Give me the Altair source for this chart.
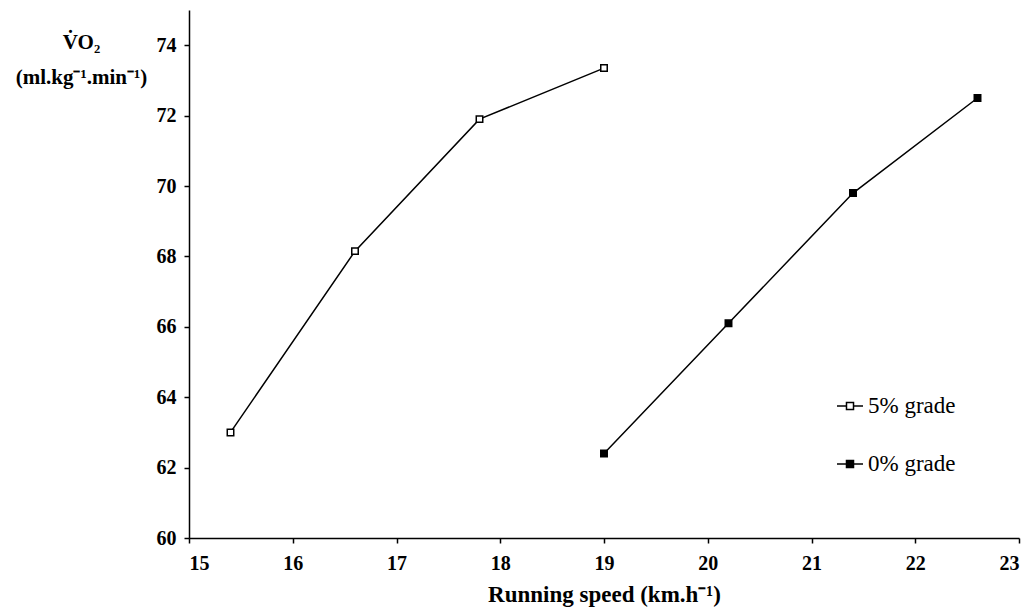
import altair as alt
import pandas as pd

speed_5 = [15.4, 16.6, 17.8, 19.0]
vo2_5 = [63.0, 68.15, 71.9, 73.35]
speed_0 = [19.0, 20.2, 21.4, 22.6]
vo2_0 = [62.4, 66.1, 69.8, 72.5]
series = ["5% grade", "0% grade"]
x_ticks = [15, 16, 17, 18, 19, 20, 21, 22, 23]
y_ticks = [60, 62, 64, 66, 68, 70, 72, 74]

df = pd.DataFrame({
    "speed": speed_5 + speed_0,
    "vo2": vo2_5 + vo2_0,
    "grade": [series[0]] * len(speed_5) + [series[1]] * len(speed_0),
})

FONT = "Liberation Serif"
sym = "M-1,0H-0.27M0.27,0H1M-0.27,-0.27H0.27V0.27H-0.27Z"

x = alt.X("speed:Q", scale=alt.Scale(domain=[15, 23], nice=False, zero=False),
          axis=alt.Axis(values=x_ticks, title="Running speed (km.h⁻¹)", grid=False,
                        format="d", labelPadding=10, titlePadding=10, titleFontSize=23))
y = alt.Y("vo2:Q", scale=alt.Scale(domain=[60, 75], nice=False, zero=False),
          axis=alt.Axis(values=y_ticks, title=["V̇O₂", "(ml.kg⁻¹.min⁻¹)"], grid=False,
                        titleAngle=0, titleAlign="center", titleX=-108, titleY=38,
                        titleBaseline="alphabetic", titleLineHeight=35, labelPadding=8))

lines = alt.Chart(df).mark_line(color="black", strokeWidth=1.5).encode(
    x=x, y=y, detail="grade:N")

points = alt.Chart(df).mark_point(shape="square", filled=True, stroke="black",
                                  strokeWidth=1.5, opacity=1).encode(
    x=x, y=y,
    fill=alt.Fill("grade:N", scale=alt.Scale(domain=series, range=["white", "black"]),
                  legend=alt.Legend(title=None, orient="none", legendX=647, legendY=382,
                                    symbolType=sym, symbolSize=676, symbolStrokeColor="black",
                                    symbolStrokeWidth=1.5, rowPadding=32, labelOffset=4,
                                    labelFontSize=23, labelFont=FONT, labelColor="black")),
)

chart = (lines + points).properties(
    width=830, height=528,
    padding={"left": 189, "top": 10, "right": 14, "bottom": 75},
    autosize=alt.AutoSizeParams(type="none"),
).configure_view(stroke=None).configure_point(size=42).configure_axis(
    domainColor="black", domainWidth=1.5, tickColor="black", tickWidth=1.5, tickSize=5,
    labelFont=FONT, labelFontSize=20, labelFontWeight="bold", labelColor="black",
    titleFont=FONT, titleFontSize=21, titleFontWeight="bold", titleColor="black",
)

chart.save("out.html", embed_options={"renderer": "svg", "actions": False})
